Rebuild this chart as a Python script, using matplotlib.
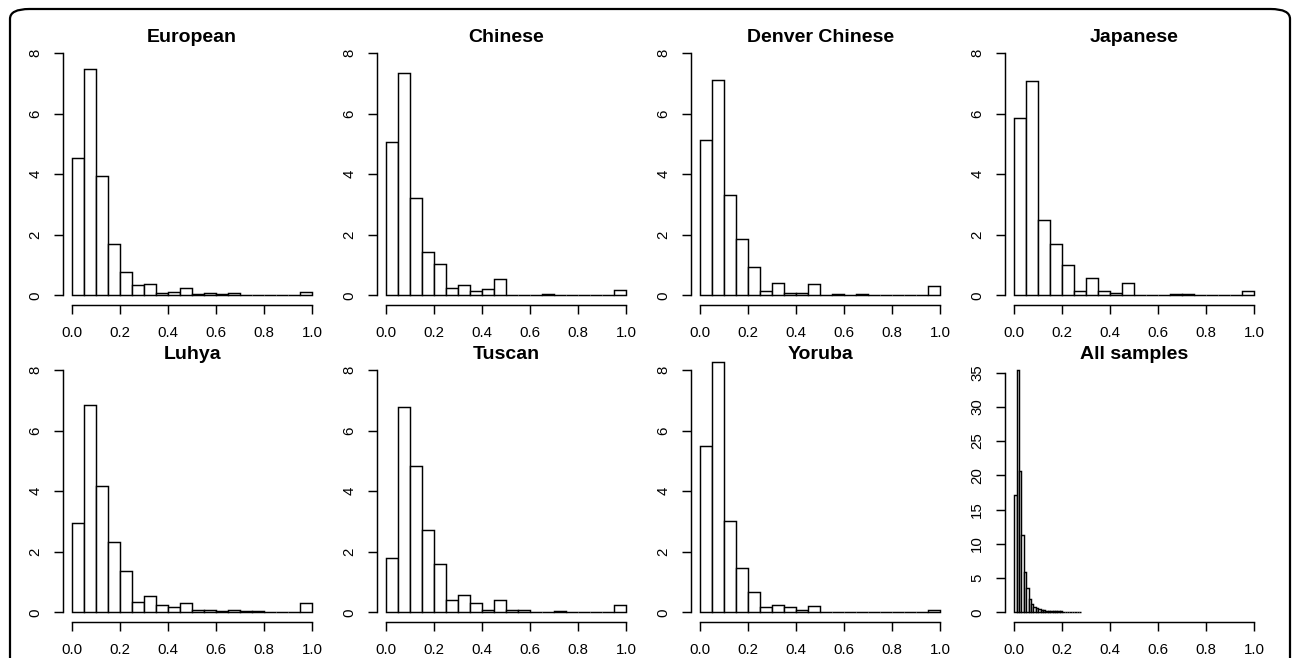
import numpy as np
import matplotlib
matplotlib.use('Agg')
import matplotlib.pyplot as plt
from matplotlib.patches import FancyBboxPatch

plt.rcParams['font.family'] = ['Liberation Sans', 'DejaVu Sans']

# density per bin, 20 bins of width 0.05 on [0, 1]
bins_pop = np.linspace(0, 1, 21)

european = [4.53, 7.48, 3.93, 1.70, 0.77, 0.33, 0.36, 0.07, 0.11, 0.25,
            0.05, 0.06, 0.03, 0.06, 0.01, 0.02, 0.01, 0.02, 0.01, 0.10]
chinese = [5.08, 7.34, 3.21, 1.43, 1.03, 0.25, 0.34, 0.14, 0.21, 0.55,
           0.00, 0.02, 0.00, 0.04, 0.02, 0.00, 0.00, 0.00, 0.00, 0.19]
denver_chinese = [5.12, 7.12, 3.32, 1.87, 0.93, 0.14, 0.40, 0.09, 0.07, 0.36,
                  0.02, 0.03, 0.00, 0.03, 0.00, 0.00, 0.00, 0.00, 0.00, 0.30]
japanese = [5.86, 7.09, 2.49, 1.71, 1.00, 0.13, 0.58, 0.15, 0.09, 0.40,
            0.00, 0.02, 0.02, 0.04, 0.04, 0.00, 0.02, 0.00, 0.00, 0.15]
luhya = [2.94, 6.84, 4.17, 2.33, 1.36, 0.34, 0.55, 0.25, 0.18, 0.30,
         0.08, 0.07, 0.04, 0.09, 0.03, 0.04, 0.00, 0.02, 0.00, 0.31]
tuscan = [1.79, 6.77, 4.82, 2.73, 1.61, 0.41, 0.56, 0.31, 0.08, 0.40,
          0.07, 0.07, 0.02, 0.02, 0.03, 0.00, 0.02, 0.00, 0.00, 0.23]
yoruba = [5.51, 8.27, 3.02, 1.47, 0.67, 0.18, 0.24, 0.19, 0.09, 0.22,
          0.00, 0.00, 0.01, 0.01, 0.01, 0.01, 0.01, 0.00, 0.00, 0.08]

# all samples: 28 bins of width 0.01 on [0, 0.28]
bins_all = np.linspace(0, 0.28, 29)
all_samples = [17.2, 35.35, 20.7, 11.3, 5.95, 3.53, 1.94, 1.26, 0.82, 0.58,
               0.44, 0.34, 0.29, 0.24, 0.21, 0.19, 0.17, 0.15, 0.14, 0.12,
               0.11, 0.10, 0.09, 0.08, 0.07, 0.06, 0.06, 0.05]

titles = ['European', 'Chinese', 'Denver Chinese', 'Japanese',
          'Luhya', 'Tuscan', 'Yoruba', 'All samples']
heights = [european, chinese, denver_chinese, japanese,
           luhya, tuscan, yoruba, all_samples]
edges = [bins_pop] * 7 + [bins_all]

W, H = 1296, 658
fig = plt.figure(figsize=(W / 100, H / 100), dpi=100)

# rounded frame round the whole figure (bottom edge runs off the picture)
frame = FancyBboxPatch((10 / W, -40 / H), 1280 / W, 689 / H,
                       boxstyle='round,pad=0,rounding_size=0.015',
                       transform=fig.transFigure, fill=False,
                       edgecolor='black', linewidth=1.6)
fig.patches.append(frame)

left0, col_step, pw = 62.5, 314.0, 259.2
tops, ph = [43.5, 360.5], 261.5

for i, (title, h, e) in enumerate(zip(titles, heights, edges)):
    r, c = divmod(i, 4)
    left = left0 + c * col_step
    bottom = tops[r] + ph
    ax = fig.add_axes([left / W, (H - bottom) / H, pw / W, ph / H])

    h = np.array(h)
    ax.bar(e[:-1], h, width=np.diff(e), align='edge', color='white',
           edgecolor='black', linewidth=1.05)

    ax.set_xlim(-0.04, 1.04)
    ax.set_xticks(np.arange(0, 1.01, 0.2))
    ax.set_xticklabels([f'{t:.1f}' for t in np.arange(0, 1.01, 0.2)])
    ax.spines['bottom'].set_bounds(0, 1)

    if title == 'All samples':
        ymax = h.max()
        yt = np.arange(0, 36, 5)
    else:
        ymax = 8
        yt = np.arange(0, 9, 2)
    ax.set_ylim(-0.04 * ymax, 1.04 * ymax)
    ax.set_yticks(yt)
    ax.set_yticklabels([str(t) for t in yt], rotation=90, va='center')
    ax.spines['left'].set_bounds(0, yt[-1])

    for s in ['top', 'right']:
        ax.spines[s].set_visible(False)
    for s in ['left', 'bottom']:
        ax.spines[s].set_linewidth(1.05)
    ax.tick_params(direction='out', length=6.5, width=1.05, labelsize=10.8)
    ax.tick_params(axis='x', pad=8.8)
    ax.tick_params(axis='y', pad=8)
    ax.patch.set_visible(False)

    ax.text(0.5, 1.006, title, transform=ax.transAxes, ha='center',
            va='baseline', fontsize=14, fontweight='bold')

fig.savefig('out.png', dpi=100)
